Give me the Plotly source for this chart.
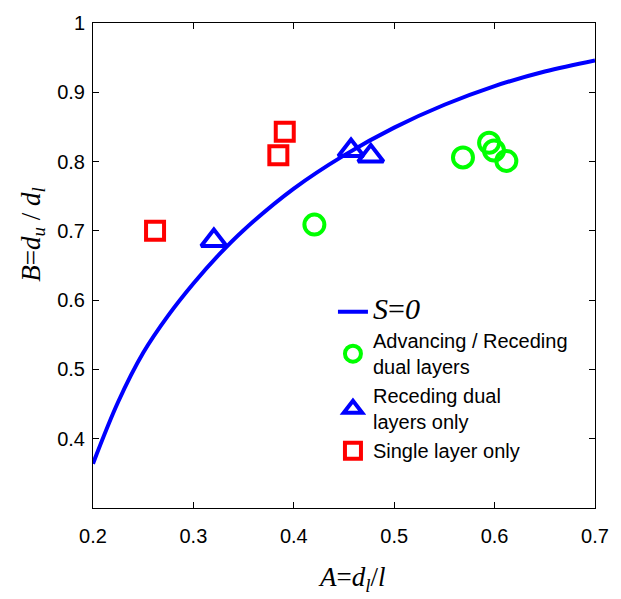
import plotly.graph_objects as go

# S=0 curve
curve_A = [0.200, 0.225, 0.250, 0.275, 0.300, 0.325, 0.350, 0.400, 0.450, 0.500, 0.550, 0.600, 0.650, 0.700]
curve_B = [0.364, 0.453, 0.524, 0.578, 0.624, 0.665, 0.701, 0.761, 0.809, 0.849, 0.882, 0.909, 0.930, 0.946]

# Advancing / Receding dual layers
circ_A = [0.4205, 0.5685, 0.5945, 0.5994, 0.6117]
circ_B = [0.709, 0.806, 0.827, 0.816, 0.801]

# Receding dual layers only
tri_A = [0.3204, 0.457, 0.4767]
tri_B = [0.686, 0.816, 0.808]

# Single layer only
sq_A = [0.2618, 0.3846, 0.391]
sq_B = [0.700, 0.809, 0.843]

x_ticks = [0.2, 0.3, 0.4, 0.5, 0.6, 0.7]
y_ticks = [0.4, 0.5, 0.6, 0.7, 0.8, 0.9, 1.0]
y_tick_text = ["0.4", "0.5", "0.6", "0.7", "0.8", "0.9", "1"]

fig = go.Figure()
fig.add_trace(go.Scatter(
    x=curve_A, y=curve_B, mode="lines", line=dict(color="#0000FF", width=4, shape="spline", smoothing=1.0),
    name="<span style='font-family:Liberation Serif;font-size:30px'><i>S</i>=<i>0</i></span>"))
fig.add_trace(go.Scatter(
    x=circ_A, y=circ_B, mode="markers",
    marker=dict(symbol="circle-open", size=20, color="#00FF00", line=dict(width=4, color="#00FF00")),
    name="Advancing / Receding<br>dual layers"))
fig.add_trace(go.Scatter(
    x=tri_A, y=tri_B, mode="markers",
    marker=dict(symbol="triangle-up-open", size=22, color="#0000FF", line=dict(width=4, color="#0000FF")),
    name="Receding dual<br>layers only"))
fig.add_trace(go.Scatter(
    x=sq_A, y=sq_B, mode="markers",
    marker=dict(symbol="square-open", size=18, color="#FF0000", line=dict(width=4, color="#FF0000")),
    name="Single layer only"))

axis_common = dict(showgrid=False, zeroline=False, showline=True, linecolor="black", linewidth=1,
                   mirror="allticks", ticks="inside", ticklen=6, tickcolor="black",
                   tickfont=dict(family="Liberation Sans, Arial", size=20, color="black"))

fig.update_xaxes(range=[0.2, 0.7], tickvals=x_ticks, ticktext=[str(v) for v in x_ticks],
                 ticklabelstandoff=10, **axis_common)
fig.update_yaxes(range=[0.3, 1.0], tickvals=y_ticks, ticktext=y_tick_text,
                 ticklabelstandoff=3, **axis_common)

fig.update_layout(
    width=621, height=599,
    margin=dict(l=93, r=17, t=14, b=91),
    paper_bgcolor="white", plot_bgcolor="white",
    showlegend=True,
    legend=dict(x=0.478, y=0.445, xanchor="left", yanchor="top",
                bgcolor="rgba(0,0,0,0)", borderwidth=0,
                font=dict(family="Liberation Sans, Arial", size=20, color="black"),
                tracegroupgap=0),
    annotations=[
        dict(text="<i>A</i>=<i>d</i><sub><i>l</i></sub>/<i>l</i>", xref="paper", yref="paper",
             x=0.516, y=-0.147, xanchor="center", yanchor="middle", showarrow=False,
             font=dict(family="Liberation Serif, Times New Roman", size=27, color="black")),
        dict(text="<i>B</i>=<i>d</i><sub><i>u</i></sub> / <i>d</i><sub><i>l</i></sub>", xref="paper", yref="paper",
             x=-0.12, y=0.563, xanchor="center", yanchor="middle", showarrow=False, textangle=-90,
             font=dict(family="Liberation Serif, Times New Roman", size=27, color="black")),
    ],
)

fig.write_html("out.html")
